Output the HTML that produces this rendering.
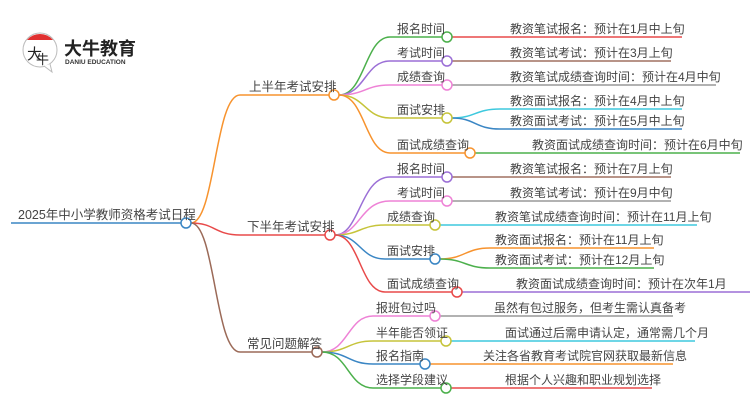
<!DOCTYPE html>
<html><head><meta charset="utf-8"><style>
html,body{margin:0;padding:0;background:#fff;width:750px;height:410px;overflow:hidden}
svg text{font-family:"Liberation Sans","Noto Sans CJK SC",sans-serif;fill:#444;font-size:12px}
</style></head><body>
<svg width="750" height="410" viewBox="0 0 750 410" xmlns="http://www.w3.org/2000/svg">
<!-- logo -->
<circle cx="40" cy="50" r="17" fill="#fff" stroke="#bbb" stroke-width="1"/>
<path d="M27,40 A17,17 0 0 1 53,40 Z" fill="#e03030"/>
<path d="M44,66 L52,72 L50,64" fill="#fff" stroke="#bbb"/>
<text x="27" y="59" style="font-size:15px;fill:#222">大</text>
<text x="36" y="64" style="font-size:13px;fill:#222">牛</text>
<text x="64" y="55" style="font-size:18px;font-weight:bold;fill:#222">大牛教育</text>
<text x="65" y="64" style="font-size:6.5px;fill:#333;font-weight:bold">DANIU EDUCATION</text>

<g fill="none" stroke-width="1.5">
<line x1="11" y1="223" x2="181" y2="223" stroke="#3a86c4"/>
<path d="M191,223 C215,223 215,95 240,95 L329,95" stroke="#f7932e"/>
<path d="M191,223 C215,223 215,235 240,235 L325,235" stroke="#e84a4a"/>
<path d="M191,223 C215,223 215,352 240,352 L312,352" stroke="#9b6a58"/>
<path d="M339,95 C365,95 365,37 390,37 L442,37" stroke="#4cb04c"/>
<path d="M339,95 C365,95 365,61 390,61 L442,61" stroke="#9b6fd6"/>
<path d="M339,95 C365,95 365,85 390,85 L442,85" stroke="#ee82d6"/>
<path d="M339,95 C365,95 365,118 390,118 L442,118" stroke="#c6c43a"/>
<path d="M339,95 C365,95 365,153 390,153 L465,153" stroke="#f7932e"/>
<path d="M335,235 C360,235 360,177 390,177 L442,177" stroke="#9b6fd6"/>
<path d="M335,235 C360,235 360,201 390,201 L442,201" stroke="#ee82d6"/>
<path d="M335,235 C360,235 360,225 385,225 L430,225" stroke="#c6c43a"/>
<path d="M335,235 C360,235 360,259 385,259 L430,259" stroke="#3a86c4"/>
<path d="M335,235 C360,235 360,292 385,292 L452,292" stroke="#e84a4a"/>
<path d="M322,352 C348,352 348,316 373,316 L430,316" stroke="#ee82d6"/>
<path d="M322,352 C348,352 348,341 373,341 L441,341" stroke="#c6c43a"/>
<path d="M322,352 C348,352 348,364 373,364 L420,364" stroke="#3a86c4"/>
<path d="M322,352 C348,352 348,388 373,388 L441,388" stroke="#4cb04c"/>
<line x1="452" y1="37" x2="682" y2="37" stroke="#e84a4a"/>
<line x1="452" y1="61" x2="671" y2="61" stroke="#a07060"/>
<line x1="452" y1="85" x2="716" y2="85" stroke="#999"/>
<path d="M452,118 C475,118 475,109 500,109 L682,109" stroke="#3ec9de"/>
<path d="M452,118 C475,118 475,129 500,129 L682,129" stroke="#3a86c4"/>
<line x1="475" y1="153" x2="740" y2="153" stroke="#4cb04c"/>
<line x1="452" y1="177" x2="671" y2="177" stroke="#a07060"/>
<line x1="452" y1="201" x2="671" y2="201" stroke="#999"/>
<line x1="440" y1="225" x2="697" y2="225" stroke="#3ec9de"/>
<path d="M440,259 C465,259 465,248 490,248 L654,248" stroke="#f7932e"/>
<path d="M440,259 C465,259 465,268 490,268 L654,268" stroke="#4cb04c"/>
<line x1="462" y1="292" x2="750" y2="292" stroke="#9b6fd6"/>
<line x1="440" y1="316" x2="673" y2="316" stroke="#999"/>
<line x1="451" y1="341" x2="695" y2="341" stroke="#3ec9de"/>
<line x1="430" y1="364" x2="673" y2="364" stroke="#f7932e"/>
<line x1="451" y1="388" x2="652" y2="388" stroke="#e84a4a"/>
</g>
<g fill="#fff" stroke-width="1.5">
<circle cx="186" cy="223" r="5" stroke="#3a86c4"/>
<circle cx="334" cy="95" r="5" stroke="#f7932e"/>
<circle cx="330" cy="235" r="5" stroke="#e84a4a"/>
<circle cx="317" cy="352" r="5" stroke="#9b6a58"/>
<circle cx="447" cy="37" r="5" stroke="#4cb04c"/>
<circle cx="447" cy="61" r="5" stroke="#9b6fd6"/>
<circle cx="447" cy="85" r="5" stroke="#ee82d6"/>
<circle cx="447" cy="118" r="5" stroke="#c6c43a"/>
<circle cx="470" cy="153" r="5" stroke="#f7932e"/>
<circle cx="447" cy="177" r="5" stroke="#9b6fd6"/>
<circle cx="447" cy="201" r="5" stroke="#ee82d6"/>
<circle cx="435" cy="225" r="5" stroke="#c6c43a"/>
<circle cx="435" cy="259" r="5" stroke="#3a86c4"/>
<circle cx="457" cy="292" r="5" stroke="#e84a4a"/>
<circle cx="435" cy="316" r="5" stroke="#ee82d6"/>
<circle cx="446" cy="341" r="5" stroke="#c6c43a"/>
<circle cx="425" cy="364" r="5" stroke="#3a86c4"/>
<circle cx="446" cy="388" r="5" stroke="#4cb04c"/>
</g>
<text x="18" y="219" style="font-size:12.5px">2025年中小学教师资格考试日程</text>
<text x="249" y="91" style="font-size:12.5px">上半年考试安排</text>
<text x="247" y="231" style="font-size:12.5px">下半年考试安排</text>
<text x="247" y="348" style="font-size:12.5px">常见问题解答</text>

<text x="397" y="33">报名时间</text>
<text x="397" y="57">考试时间</text>
<text x="397" y="81">成绩查询</text>
<text x="397" y="114">面试安排</text>
<text x="397" y="149">面试成绩查询</text>
<text x="397" y="173">报名时间</text>
<text x="397" y="197">考试时间</text>
<text x="387" y="221">成绩查询</text>
<text x="387" y="255">面试安排</text>
<text x="387" y="288">面试成绩查询</text>
<text x="376" y="312">报班包过吗</text>
<text x="376" y="337">半年能否领证</text>
<text x="376" y="360">报名指南</text>
<text x="376" y="384">选择学段建议</text>

<text x="510" y="33">教资笔试报名：预计在1月中上旬</text>
<text x="510" y="57">教资笔试考试：预计在3月上旬</text>
<text x="510" y="81">教资笔试成绩查询时间：预计在4月中旬</text>
<text x="510" y="105">教资面试报名：预计在4月中上旬</text>
<text x="510" y="125">教资面试考试：预计在5月中上旬</text>
<text x="532" y="149">教资面试成绩查询时间：预计在6月中旬</text>
<text x="510" y="173">教资笔试报名：预计在7月上旬</text>
<text x="510" y="197">教资笔试考试：预计在9月中旬</text>
<text x="495" y="221">教资笔试成绩查询时间：预计在11月上旬</text>
<text x="495" y="244">教资面试报名：预计在11月上旬</text>
<text x="495" y="264">教资面试考试：预计在12月上旬</text>
<text x="516" y="288">教资面试成绩查询时间：预计在次年1月</text>
<text x="494" y="312">虽然有包过服务，但考生需认真备考</text>
<text x="505" y="337">面试通过后需申请认定，通常需几个月</text>
<text x="483" y="360">关注各省教育考试院官网获取最新信息</text>
<text x="505" y="384">根据个人兴趣和职业规划选择</text>
</svg>
</body></html>
